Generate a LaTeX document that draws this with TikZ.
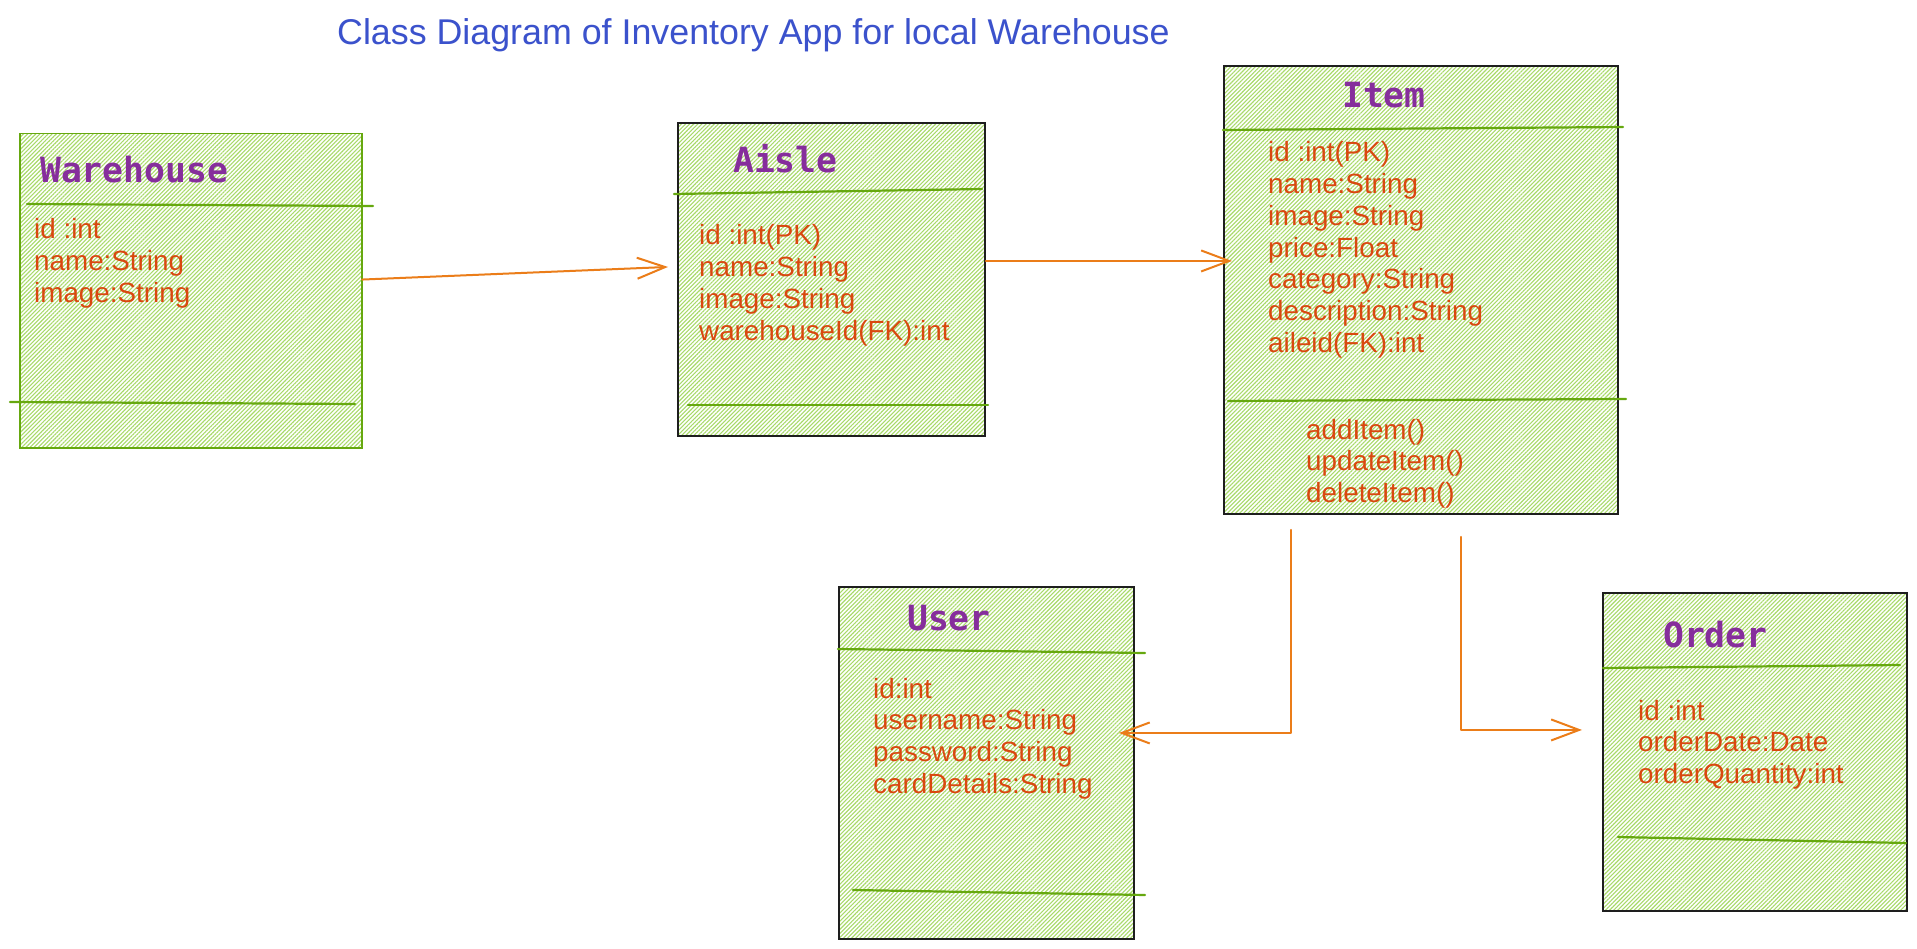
\documentclass[tikz,border=0pt]{standalone}
\usepackage{fontspec}
\setmainfont{Liberation Sans}
\newfontfamily\codefont{DejaVu Sans Mono}
\usetikzlibrary{arrows.meta,patterns.meta}
\definecolor{bodytxt}{RGB}{217,72,15}
\definecolor{titleblue}{RGB}{59,82,204}
\definecolor{grape}{RGB}{134,46,156}
\definecolor{limeline}{RGB}{102,168,15}
\definecolor{hatchgreen}{RGB}{168,218,105}
\definecolor{arrowc}{RGB}{235,125,25}
\definecolor{boxline}{RGB}{30,30,30}
\tikzset{
  classbox/.style={draw=boxline, line width=1.9pt, anchor=north west, inner sep=0pt,
     pattern={Lines[angle=45,distance=2.9pt,line width=1.1pt]}, pattern color=hatchgreen},
  sepline/.style={draw=limeline, line width=2.2pt, line cap=round},
  classname/.style={font=\codefont\bfseries\fontsize{34.7}{34.7}\selectfont, text=grape, anchor=base west, inner sep=0pt},
  attr/.style={font=\fontsize{27.8}{31.7}\selectfont, text=bodytxt, anchor=base west, inner sep=0pt},
  conn/.style={draw=arrowc, line width=2pt, line cap=round, line join=round,
     -{Straight Barb[length=28pt,width=21pt,line width=2pt]}},
}
\newcommand\attrlist[4]{%
  \foreach \t [count=\i from 0] in {#4}{%
    \node[attr] (#1\i) at (#2,#3+31.7*\i) {\t};}}
\begin{document}
\begin{tikzpicture}[x=1pt,y=-1pt]
\fill[white] (0,0) rectangle (1917,949);
\useasboundingbox (0,0) rectangle (1917,949);

% title
\node[font=\fontsize{35.8}{40}\selectfont, text=titleblue, anchor=base west, inner sep=0pt]
  (title) at (337,45) {Class Diagram of Inventory App for local Warehouse};

% class boxes
\node[classbox, draw=limeline, minimum width=342pt, minimum height=314pt] (warehouse) at (19,133) {};
\node[classbox, minimum width=307pt, minimum height=313pt] (aisle) at (677,122) {};
\node[classbox, minimum width=394pt, minimum height=448pt] (item) at (1223,65) {};
\node[classbox, minimum width=295pt, minimum height=352pt] (user) at (838,586) {};
\node[classbox, minimum width=304pt, minimum height=318pt] (order) at (1602,592) {};

% separators
\draw[sepline] (27,204) -- (373,206);
\draw[sepline] (10,402) -- (355,404);
\draw[sepline] (674,194) -- (982,189);
\draw[sepline] (688,405) -- (988,405);
\draw[sepline] (1223,130) -- (1623,127);
\draw[sepline] (1228,401) -- (1626,399);
\draw[sepline] (838,649) -- (1145,653);
\draw[sepline] (853,890) -- (1145,895);
\draw[sepline] (1603,668) -- (1900,665);
\draw[sepline] (1618,837) -- (1906,843);

% class names
\node[classname] (warehousename) at (40,183) {Warehouse};
\node[classname] (aislename) at (733,173) {Aisle};
\node[classname] (itemname) at (1342,108) {Item};
\node[classname] (username) at (907,630) {User};
\node[classname] (ordername) at (1663,647) {Order};

% attributes
\attrlist{wa}{34}{239}{id :int,name:String,image:String}
\attrlist{ai}{699}{245}{id :int(PK),name:String,image:String,warehouseId(FK):int}
\attrlist{it}{1268}{162}{id :int(PK),name:String,image:String,price:Float,category:String,description:String,aileid(FK):int}
\attrlist{im}{1306}{439}{addItem(),updateItem(),deleteItem()}
\attrlist{us}{873}{698}{id:int,username:String,password:String,cardDetails:String}
\attrlist{or}{1638}{720}{id :int,orderDate:Date,orderQuantity:int}

% connectors
\draw[conn] ([yshift=11pt]warehouse.east) -- ([xshift=-9pt,yshift=12.5pt]aisle.west);
\draw[conn] ([yshift=18.5pt]aisle.east) -- ([xshift=9pt,yshift=29pt]item.west);
\draw[conn] ([xshift=-130pt,yshift=-15pt]item.south) |- ([xshift=-16pt,yshift=30pt]user.east);
\draw[conn] ([xshift=40pt,yshift=-22pt]item.south) |- ([xshift=-20pt,yshift=22pt]order.west);
\end{tikzpicture}
\end{document}
